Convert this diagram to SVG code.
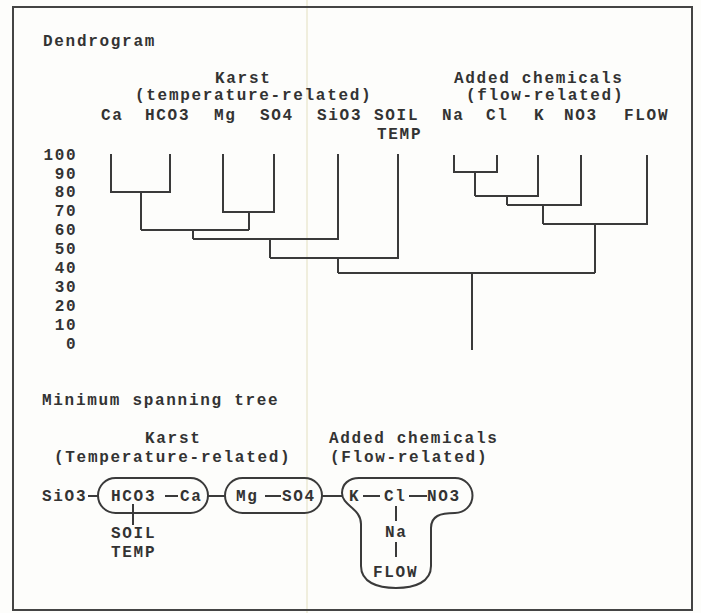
<svg xmlns="http://www.w3.org/2000/svg" width="701" height="613" viewBox="0 0 701 613">
<style>
text{font-family:"Liberation Mono","DejaVu Sans Mono",monospace;font-size:16px;font-weight:bold;letter-spacing:1.7px;fill:#333}
.ln{fill:none;stroke:#3a3a3a;stroke-width:2;stroke-linejoin:miter}
.pill{fill:none;stroke:#3a3a3a;stroke-width:2}
</style>
<rect x="0" y="0" width="701" height="613" fill="#fdfdfb"/>
<line x1="307" y1="0" x2="307" y2="613" stroke="#ebe8d3" stroke-width="1.5"/>
<rect x="13" y="7" width="679" height="603" fill="none" stroke="#444" stroke-width="2"/>

<g id="titles">
<text x="43" y="46">Dendrogram</text>
<text x="215" y="83">Karst</text>
<text x="135" y="100">(temperature-related)</text>
<text x="454" y="83">Added chemicals</text>
<text x="466" y="100">(flow-related)</text>
<text x="42" y="405">Minimum spanning tree</text>
<text x="145" y="443">Karst</text>
<text x="54" y="462">(Temperature-related)</text>
<text x="329" y="443">Added chemicals</text>
<text x="330" y="462">(Flow-related)</text>
</g>

<g id="axis">
<text x="43.5" y="159.5">100</text>
<text x="54.8" y="178.5">90</text>
<text x="54.8" y="197.4">80</text>
<text x="54.8" y="216.4">70</text>
<text x="54.8" y="235.3">60</text>
<text x="54.8" y="254.3">50</text>
<text x="54.8" y="273.2">40</text>
<text x="54.8" y="292.2">30</text>
<text x="54.8" y="311.1">20</text>
<text x="54.8" y="330.1">10</text>
<text x="66.1" y="349">0</text>
</g>

<g id="leaf-Ca"><text x="101" y="120">Ca</text></g>
<g id="leaf-HCO3"><text x="145" y="120">HCO3</text></g>
<g id="leaf-Mg"><text x="214" y="120">Mg</text></g>
<g id="leaf-SO4"><text x="260" y="120">SO4</text></g>
<g id="leaf-SiO3"><text x="317" y="120">SiO3</text></g>
<g id="leaf-SOILTEMP"><text x="374" y="120">SOIL</text><text x="377" y="139">TEMP</text></g>
<g id="leaf-Na"><text x="442" y="120">Na</text></g>
<g id="leaf-Cl"><text x="486" y="120">Cl</text></g>
<g id="leaf-K"><text x="534" y="120">K</text></g>
<g id="leaf-NO3"><text x="564" y="120">NO3</text></g>
<g id="leaf-FLOW"><text x="624" y="120">FLOW</text></g>

<g id="connectors">
<path class="ln" d="M111,154V192H170V154"/>
<path class="ln" d="M141,192V230"/>
<path class="ln" d="M223,154V212H274V154"/>
<path class="ln" d="M249,212V230"/>
<path class="ln" d="M141,230H249"/>
<path class="ln" d="M193,230V239"/>
<path class="ln" d="M338,154V239H193"/>
<path class="ln" d="M270,239V258"/>
<path class="ln" d="M398,154V258H270"/>
<path class="ln" d="M338,258V273"/>
<path class="ln" d="M454,155V172H497V155"/>
<path class="ln" d="M475,172V196"/>
<path class="ln" d="M538,155V196H475"/>
<path class="ln" d="M507,196V205"/>
<path class="ln" d="M581,155V205H507"/>
<path class="ln" d="M543,205V224"/>
<path class="ln" d="M647,155V224H543"/>
<path class="ln" d="M595,224V273"/>
<path class="ln" d="M338,273H595"/>
<path class="ln" d="M472,273V350"/>
<!-- MST edges -->
<path class="ln" d="M88,496H99"/>
<path class="ln" d="M165,496H178"/>
<path class="ln" d="M133,504V525"/>
<path class="ln" d="M208,496H225"/>
<path class="ln" d="M265,496H281"/>
<path class="ln" d="M322,496H343"/>
<path class="ln" d="M363,496H380"/>
<path class="ln" d="M409,496H427"/>
<path class="ln" d="M396,506V521"/>
<path class="ln" d="M396,542V557"/>
</g>

<g id="mst-SiO3"><text x="42" y="501">SiO3</text></g>
<g id="mst-group1">
<rect class="pill" x="98" y="478" width="110" height="35" rx="17.5"/>
<text x="111" y="501">HCO3</text>
<text x="180" y="501">Ca</text>
</g>
<g id="mst-SOILTEMP"><text x="111" y="538">SOIL</text><text x="111" y="557">TEMP</text></g>
<g id="mst-group2">
<rect class="pill" x="225" y="478" width="97" height="35" rx="17.5"/>
<text x="236" y="501">Mg</text>
<text x="282" y="501">SO4</text>
</g>
<g id="mst-group3">
<path class="pill" d="M359,478H455A17.5,17.5 0 0 1 455,513C440,513 431,516 431,528V566C431,582 415,588 396,588C377,588 361,582 361,566V524C361,508 342,506 342,493C342,484 349,478 359,478Z"/>
<text x="349" y="501">K</text>
<text x="384" y="501">Cl</text>
<text x="427" y="501">NO3</text>
<text x="385" y="537">Na</text>
<text x="373" y="577">FLOW</text>
</g>
</svg>
